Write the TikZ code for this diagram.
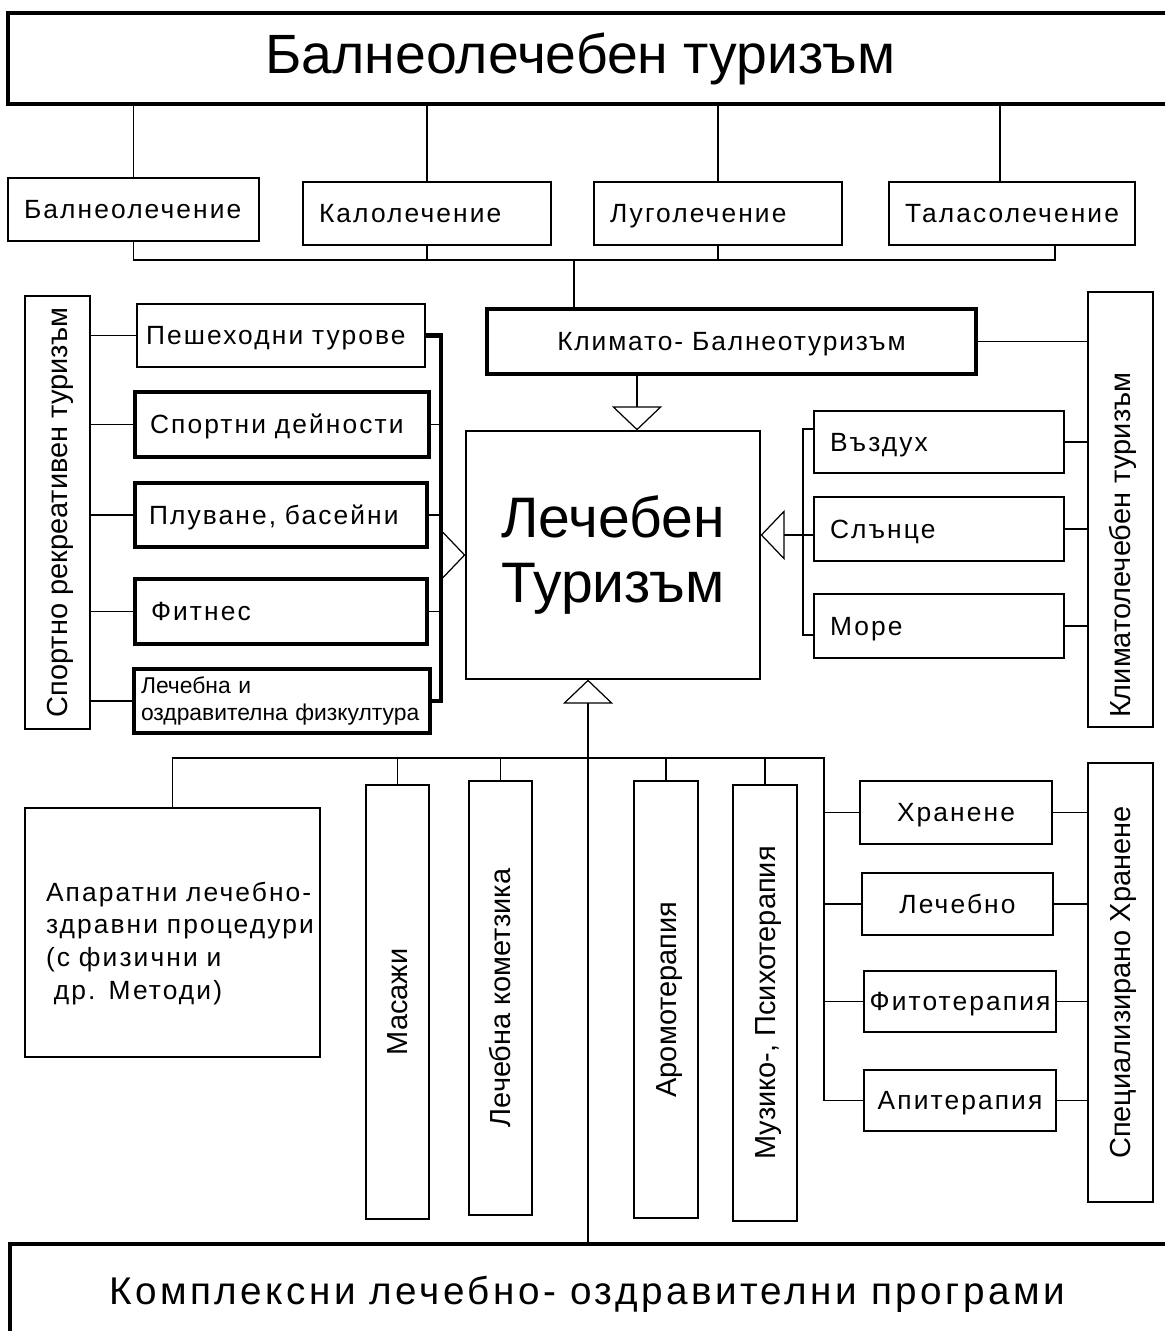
\documentclass[tikz,border=0pt]{standalone}
\usepackage{fontspec}
\setmainfont{Liberation Sans}
\usetikzlibrary{arrows.meta}
\newcommand\fs[2]{\fontsize{#1}{#2}\selectfont}
\newcommand\wide{\addfontfeature{LetterSpace=8}}
\tikzset{
  base/.style={draw, line width=0.7pt, inner sep=0pt, font=\fs{15}{18}\wide},
  box/.style={base, text height=10.7pt, text depth=0pt},
  heavy/.style={line width=2.3pt},
  lbox/.style={box, align=left, inner xsep=0.32cm},
  vbox/.style={box, rotate=90, font=\fs{16.5}{20}, text height=11.8pt},
  link/.style={line width=0.7pt},
  tri/.style={link, -{Triangle[open, length=0.48cm, width=1cm]}},
}
\begin{document}
\begin{tikzpicture}[x=0.02cm, y=-0.02cm]
        \useasboundingbox (0,0) rectangle (1164,1331);
        \node[box, heavy, minimum width=23.34cm, minimum height=1.82cm, font=\fs{31.5}{36}, text height=22.6pt, text depth=5.6pt] (title) at (591.5,58.5) {\hspace*{-0.44cm}Балнеолечебен туризъм};
        \node[lbox, text width=4.38cm, minimum height=1.26cm] (balneo) at (133.5,209.5) {Балнеолечение};
        \node[lbox, text width=4.32cm, minimum height=1.26cm] (kalo) at (427,213.5) {Калолечение};
        \node[lbox, text width=4.32cm, minimum height=1.26cm] (lugo) at (718,213.5) {Луголечение};
        \node[lbox, text width=4.28cm, minimum height=1.26cm] (talaso) at (1012,213.5) {Таласолечение};
        \node[box, heavy, minimum width=9.78cm, minimum height=1.30cm, font=\fs{15}{18}\addfontfeature{LetterSpace=7}] (klimbal) at (731.5,341.5) {Климато- Балнеотуризъм};
        \node[base, minimum width=5.88cm, minimum height=4.96cm, align=center, font=\fs{32.5}{37}] (lech) at (613,555) {Лечебен\\Туризъм};

        \node[vbox, minimum width=8.66cm, minimum height=1.30cm] (sport) at (57.5,512.5) {Спортно рекреативен туризъм};
        \node[lbox, text width=5.40cm, inner xsep=0.18cm, minimum height=1.26cm] (pesh) at (281,335.5) {Пешеходни турове};
        \node[lbox, heavy, text width=5.28cm, inner xsep=0.30cm, minimum height=1.30cm] (sportd) at (282,424.5) {Спортни дейности};
        \node[lbox, heavy, text width=5.28cm, inner xsep=0.28cm, minimum height=1.28cm] (pluv) at (281,515) {Плуване, басейни};
        \node[lbox, heavy, text width=5.20cm, minimum height=1.30cm] (fitn) at (281,611.5) {Фитнес};
        \node[base, heavy, align=left, text width=5.64cm, inner xsep=0.14cm, minimum height=1.28cm, font=\fs{13}{15.3}] (lfk) at (282,701) {\mbox{Лечебна и}\\\mbox{оздравителна физкултура}};

        \node[vbox, align=left, text width=8.34cm, inner xsep=0.18cm, minimum height=1.30cm] (klimlech) at (1120.5,509.5) {Климатолечебен туризъм};
        \node[lbox, text width=4.36cm, minimum height=1.24cm] (vazd) at (939,442) {Въздух};
        \node[lbox, text width=4.36cm, minimum height=1.28cm] (slan) at (939,529) {Слънце};
        \node[lbox, text width=4.36cm, minimum height=1.28cm] (more) at (939,626) {Море};

        \node[base, align=left, text width=5.06cm, inner xsep=0.42cm, minimum height=4.98cm, font=\fs{15}{18.7}\wide] (apar) at (172.5,932.5) {\rule{0pt}{23.5pt}\mbox{Апаратни лечебно-}\\\mbox{здравни процедури}\\\mbox{(с физични и}\\\mbox{\hspace*{0.3em}др. Методи)}};
        \node[vbox, minimum width=8.68cm, minimum height=1.26cm] (masaj) at (397.5,1002) {Масажи};
        \node[vbox, minimum width=8.68cm, minimum height=1.26cm] (kozm) at (500.5,998) {Лечебна кометзика};
        \node[vbox, minimum width=8.74cm, minimum height=1.28cm] (aroma) at (666,999.5) {Аромотерапия};
        \node[vbox, minimum width=8.72cm, minimum height=1.28cm] (muzik) at (765,1003) {Музико-, Психотерапия};
        \node[box, minimum width=3.84cm, minimum height=1.26cm] (hran) at (956,812.5) {Хранене};
        \node[box, minimum width=3.82cm, minimum height=1.24cm] (lechno) at (957.5,904) {Лечебно};
        \node[box, minimum width=3.84cm, minimum height=1.22cm] (fito) at (960,1001.5) {Фитотерапия};
        \node[box, minimum width=3.84cm, minimum height=1.22cm] (api) at (960,1100.5) {Апитерапия};
        \node[vbox, minimum width=8.78cm, minimum height=1.30cm] (spec) at (1120.5,982.5) {Специализирано Хранене};
        \node[box, heavy, minimum width=23.30cm, minimum height=2.02cm, font=\fs{22}{26}\addfontfeature{LetterSpace=9}, text height=15.8pt, text depth=5pt] (compl) at (592.5,1294.5) {\hspace*{-0.22cm}Комплексни лечебно- оздравителни програми};

        \coordinate (tal1) at ([xshift=-0.24cm]talaso.north);
        \coordinate (tal2) at ([xshift=0.86cm]talaso.south);
        \coordinate (rowbus) at (574,260);
        \draw[link] (balneo.north) -- (balneo.north |- title.south);
        \draw[link] (kalo.north) -- (kalo.north |- title.south);
        \draw[link] (lugo.north) -- (lugo.north |- title.south);
        \draw[link] (tal1) -- (tal1 |- title.south);
        \draw[link] (balneo.south) |- (rowbus) -| (tal2);
        \draw[link] (kalo.south) -- (kalo.south |- rowbus);
        \draw[link] (lugo.south) -- (lugo.south |- rowbus);
        \draw[link] (rowbus) -- (rowbus |- klimbal.north);
        \draw[link] (klimbal.east) -- (klimbal.east -| klimlech.north);

        \coordinate (toptip) at ([xshift=0.48cm]lech.north);
        \draw[tri] (toptip |- klimbal.south) -- (toptip);

        \coordinate (brtop) at (803,429);
        \coordinate (brbot) at (803,635);
        \coordinate (rtip) at ([yshift=0.4cm]lech.east);
        \draw[link] (vazd.west |- brtop) -- (brtop) -- (brbot) -- (more.west |- brbot);
        \draw[tri] (slan.west |- rtip) -- (rtip);
        \foreach \n in {vazd,slan,more}
          \draw[link] (\n.east) -- (\n.east -| klimlech.north);

        \coordinate (lbus) at ([xshift=-0.48cm]lech.west);
        \foreach \n in {pesh,sportd,pluv,fitn,lfk}
          \draw[link] (\n.west -| sport.south) -- (\n.west);
        \draw[link, heavy] (pesh.east) -| (lbus) |- (lfk.east);
        \foreach \n in {sportd,pluv,fitn}
          \draw[link] (\n.east) -- (\n.east -| lbus);
        \draw[tri] (lbus) -- (lech.west);

        \coordinate (btip) at ([xshift=-0.5cm]lech.south);
        \coordinate (br) at (824,758);
        \draw[tri] (btip |- compl.north) -- (btip);
        \draw[link] (apar.north) |- (br) |- (api.west);
        \foreach \n in {masaj,kozm,aroma,muzik}
          \draw[link] (\n.east) -- (\n.east |- br);
        \foreach \n in {hran,lechno,fito}
          \draw[link] (\n.west -| br) -- (\n.west);
        \foreach \n in {hran,lechno,fito,api}
          \draw[link] (\n.east) -- (\n.east -| spec.north);
      \end{tikzpicture}
\end{document}
